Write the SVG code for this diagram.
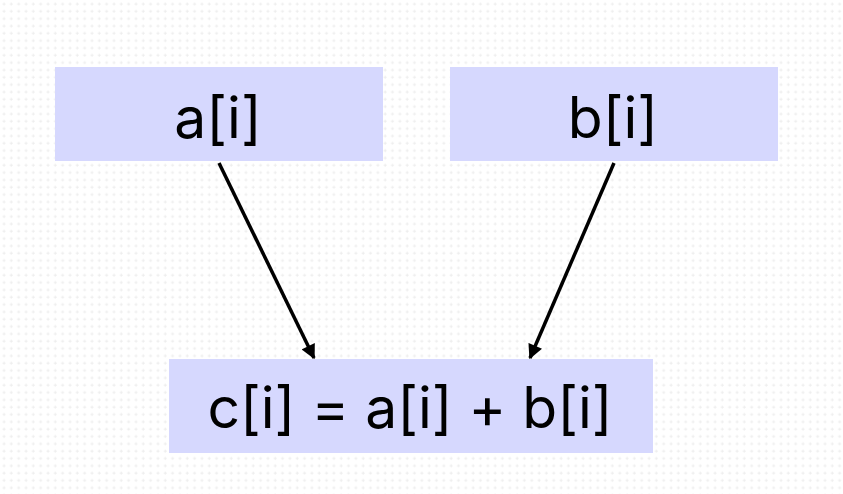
<svg xmlns="http://www.w3.org/2000/svg" width="843" height="494" viewBox="0 0 843 494">
<style>
.node rect{fill:#d6d8fe}
.node text{font-family:Inter,"Noto Sans","DejaVu Sans",sans-serif;font-size:57px;font-weight:400;fill:#000;text-anchor:middle}
.edge{stroke:#000;stroke-width:3.5;fill:none;marker-end:url(#ah)}
</style>
<defs>
<pattern id="grid" x="2" y="2" width="7.33" height="7.33" patternUnits="userSpaceOnUse">
<rect x="1.5" y="0.5" width="1" height="3" fill="#ededed"/>
<rect x="0.5" y="1.5" width="3" height="1" fill="#ededed"/>
</pattern>
<marker id="ah" viewBox="0 0 10 10" refX="9" refY="5" markerWidth="4.6" markerHeight="4.2" orient="auto" markerUnits="strokeWidth">
<path d="M0,0 L10,5 L0,10 z" fill="#000"/>
</marker>
</defs>
<rect width="843" height="494" fill="#fff"/>
<rect width="843" height="494" fill="url(#grid)"/>
<g id="connectors">
<line class="edge" x1="219" y1="163" x2="314" y2="358"/>
<line class="edge" x1="614" y1="163" x2="530" y2="358"/>
</g>
<g id="node-a" class="node">
<rect x="55" y="67" width="328" height="94"/>
<text x="218" y="138">a[i]</text>
</g>
<g id="node-b" class="node">
<rect x="450" y="67" width="328" height="94"/>
<text x="613" y="138">b[i]</text>
</g>
<g id="node-c" class="node">
<rect x="169" y="359" width="484" height="94"/>
<text x="410" y="428">c[i] = a[i] + b[i]</text>
</g>
</svg>
